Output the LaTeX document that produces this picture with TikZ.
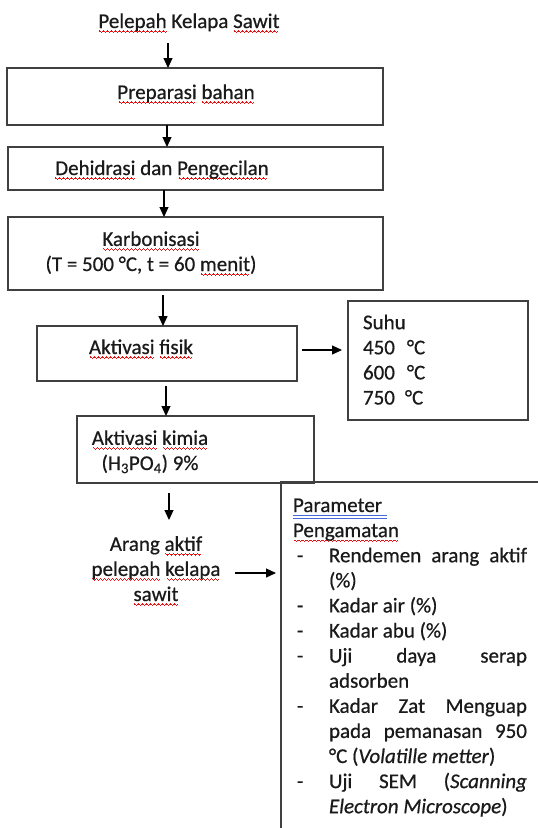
\documentclass[tikz,border=0pt]{standalone}
\usepackage{fontspec}
\setmainfont{Carlito}[RawFeature={embolden=0.6}]
\usetikzlibrary{arrows.meta}
\definecolor{txt}{HTML}{1A1A1A}
\definecolor{ln}{HTML}{404040}
\definecolor{wav}{HTML}{E81010}
\definecolor{dbl}{HTML}{4468D8}
\newsavebox\wordbox
\newcommand\wavepiece{\hbox{\vrule width1pt height-2.4pt depth3.5pt\vrule width1pt height-3.0pt depth4.1pt\vrule width1pt height-3.6pt depth4.7pt\vrule width1pt height-3.0pt depth4.1pt}}
\newcommand\rw[1]{\sbox\wordbox{#1}\rlap{\color{wav}\hbox to\wd\wordbox{\cleaders\wavepiece\hfil}}\usebox\wordbox}
\newcommand\bu[1]{\sbox\wordbox{#1}\rlap{\color{dbl}\rule[-4.2pt]{\wd\wordbox}{0.8pt}\kern-\wd\wordbox\rule[-6.4pt]{\wd\wordbox}{0.8pt}}\usebox\wordbox}
\newcommand\mainsize{\fontsize{21pt}{25.1pt}\selectfont}
\tikzset{
  lbl/.style={font=\mainsize, text=txt, inner sep=0pt, outer sep=0pt},
  box/.style={draw=ln, line width=1.3pt, inner sep=0pt, outer sep=0pt},
  arr/.style={-{Triangle[length=10pt,width=9pt]}, line width=1.2pt, draw=black},
}
\begin{document}
\begin{tikzpicture}[x=1pt,y=-1pt]
\useasboundingbox (0,0) rectangle (538,828);
% title
\node[lbl, anchor=base] (t0) at (189,28) {\rw{Pelepah} Kelapa \rw{Sawit}};
% boxes
\node[box, minimum width=376pt, minimum height=57pt] (b1) at (195,96.5) {};
\node[box, minimum width=375pt, minimum height=43pt] (b2) at (195.5,168.5) {};
\node[box, minimum width=375pt, minimum height=73pt] (b3) at (195.5,253.5) {};
\node[box, minimum width=260pt, minimum height=55pt] (b4) at (167,353.5) {};
\node[box, minimum width=180pt, minimum height=119pt] (b5) at (438,360.5) {};
\node[box, minimum width=237pt, minimum height=67pt] (b6) at (195.5,449.5) {};
% texts (base anchor of multi-line nodes = last line)
\node[lbl, anchor=base] (t1) at (186,99) {\rw{Preparasi} \rw{bahan}};
\node[lbl, anchor=base] (t2) at (162,175) {\rw{Dehidrasi} dan \rw{Pengecilan}};
\node[lbl, anchor=base, align=center] (t3) at (151,271) {\rw{Karbonisasi}\\(T = 500 °C, t = 60 \rw{menit})};
\node[lbl, anchor=base] (t4) at (141,354) {\rw{Aktivasi} \rw{fisik}};
\node[lbl, anchor=base west, align=left] (t5) at (363,404.5) {Suhu\\450\hspace{12pt}°C\\600\hspace{12pt}°C\\750\hspace{10pt}°C};
\node[lbl, anchor=base, align=center] (t6) at (150,470) {\rw{Aktivasi} \rw{kimia}\\(H\textsubscript{3}PO\textsubscript{4}) 9\%};
\node[lbl, anchor=base, align=center] (t7) at (156,601) {Arang \rw{aktif}\\\rw{pelepah} \rw{kelapa}\\\rw{sawit}};
% parameter box
\coordinate (pb) at (281,482);
\draw[ln, line width=1.3pt] (pb -| 538,0) -- (pb) -- (pb |- 0,828);
\node[lbl, anchor=base west, text width=234pt, align=justify] (t8) at (293,512) {%
\tolerance=10000 \hbadness=10000 \hyphenpenalty=10000 \exhyphenpenalty=10000
\noindent\bu{Parameter\ }\par
\noindent\rw{Pengamatan}\par
\hangindent=36pt\hangafter=1\noindent\makebox[36pt][l]{\hspace{4pt}-}Rendemen arang aktif (\%)\par
\hangindent=36pt\hangafter=1\noindent\makebox[36pt][l]{\hspace{4pt}-}Kadar air (\%)\par
\hangindent=36pt\hangafter=1\noindent\makebox[36pt][l]{\hspace{4pt}-}Kadar abu (\%)\par
\hangindent=36pt\hangafter=1\noindent\makebox[36pt][l]{\hspace{4pt}-}Uji daya serap adsorben\par
\hangindent=36pt\hangafter=1\noindent\makebox[36pt][l]{\hspace{4pt}-}Kadar Zat Menguap pada pemanasan 950 °C (\textit{Volatille metter})\par
\hangindent=36pt\hangafter=1\noindent\makebox[36pt][l]{\hspace{4pt}-}Uji SEM (\textit{Scanning Electron Microscope})\par};
% arrows
\coordinate (s1) at (168,43);
\draw[arr] (s1) -- (s1 |- b1.north);
\draw[arr] (b1.south -| 167,0) -- (b2.north -| 167,0);
\draw[arr] (b2.south -| 164,0) -- (b3.north -| 164,0);
\coordinate (s4) at (163,295);
\draw[arr] (s4) -- (s4 |- b4.north);
\coordinate (s5) at (166,386);
\draw[arr] (s5) -- (s5 |- b6.north);
\draw[arr, shorten <=5pt, shorten >=6pt] (b4.east |- 0,350) -- (b5.west |- 0,350);
\coordinate (s6) at (169,493);
\coordinate (e6) at (169,520);
\draw[arr] (s6) -- (e6);
\coordinate (s8) at (235,573);
\draw[arr, shorten >=5pt] (s8) -- (pb |- s8);
\end{tikzpicture}
\end{document}
